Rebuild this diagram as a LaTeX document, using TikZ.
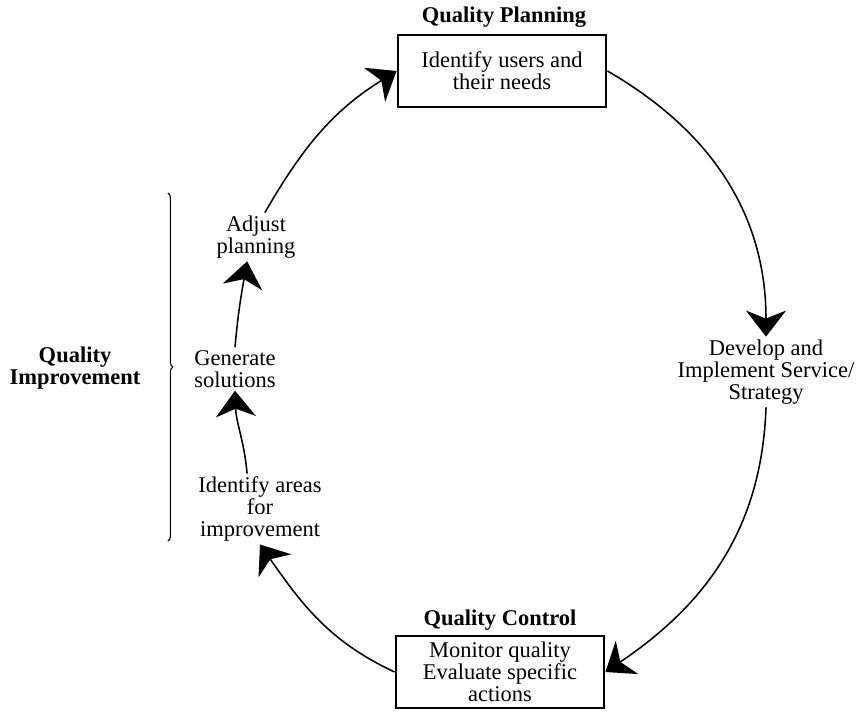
\documentclass[tikz,border=0pt]{standalone}
\usepackage{fontspec}
\setmainfont{Liberation Serif}
\usetikzlibrary{arrows.meta,decorations.pathreplacing}

\begin{document}
\begin{tikzpicture}[x=0.025cm, y=0.025cm,
    every node/.style={font=\fontsize{16}{15.7}\selectfont, align=center, inner sep=2pt},
    headline/.style={font=\fontsize{16}{15.7}\selectfont\bfseries},
    stagebox/.style={draw, line width=1.4pt, minimum width=5.22cm, minimum height=1.8cm},
    cyclearrow/.style={line width=1.1pt, -{Stealth[length=0.65cm, width=1.0cm, inset=0.2cm]}}]
    \useasboundingbox (0,0) rectangle (859,712);

    % Planning
    \node[headline] (qp) at (504,695) {Quality Planning};
    \node[stagebox] (users) at (502,641) {Identify users and\\their needs};
    \node (dev) at (766,340) {Develop and\\Implement Service/\\Strategy};

    % Control
    \node[headline] (qc) at (500,92) {Quality Control};
    \node[stagebox] (monitor) at (500,40) {Monitor quality\\Evaluate specific\\actions};

    % Improvement
    \node[headline] (qi) at (75,344) {Quality\\Improvement};
    \node (adj) at (256,475) {Adjust\\planning};
    \node (gen) at (235,343) {Generate\\solutions};
    \node (areas) at (260,203) {Identify areas\\for\\improvement};
    \coordinate (bt) at (168,519);
    \coordinate (bb) at (168,171);
    \draw[line width=0.8pt, decorate, decoration={brace, amplitude=0.12cm}] (bt) -- (bb);

    % the cycle
    \draw[cyclearrow] (users.east) to[out=-30, in=90] (dev.north);
    \draw[cyclearrow] (dev.south) to[out=-92, in=34] (monitor.east);
    \draw[cyclearrow] (monitor.west) to[out=155, in=-55] (areas.south);
    \draw[cyclearrow] (areas.110) to[out=95, in=-88] (gen.south);
    \draw[cyclearrow] (gen.north) to[out=85, in=-100] (adj.250);
    \draw[cyclearrow] (adj.70) to[out=60, in=-148] (users.west);
\end{tikzpicture}
\end{document}
